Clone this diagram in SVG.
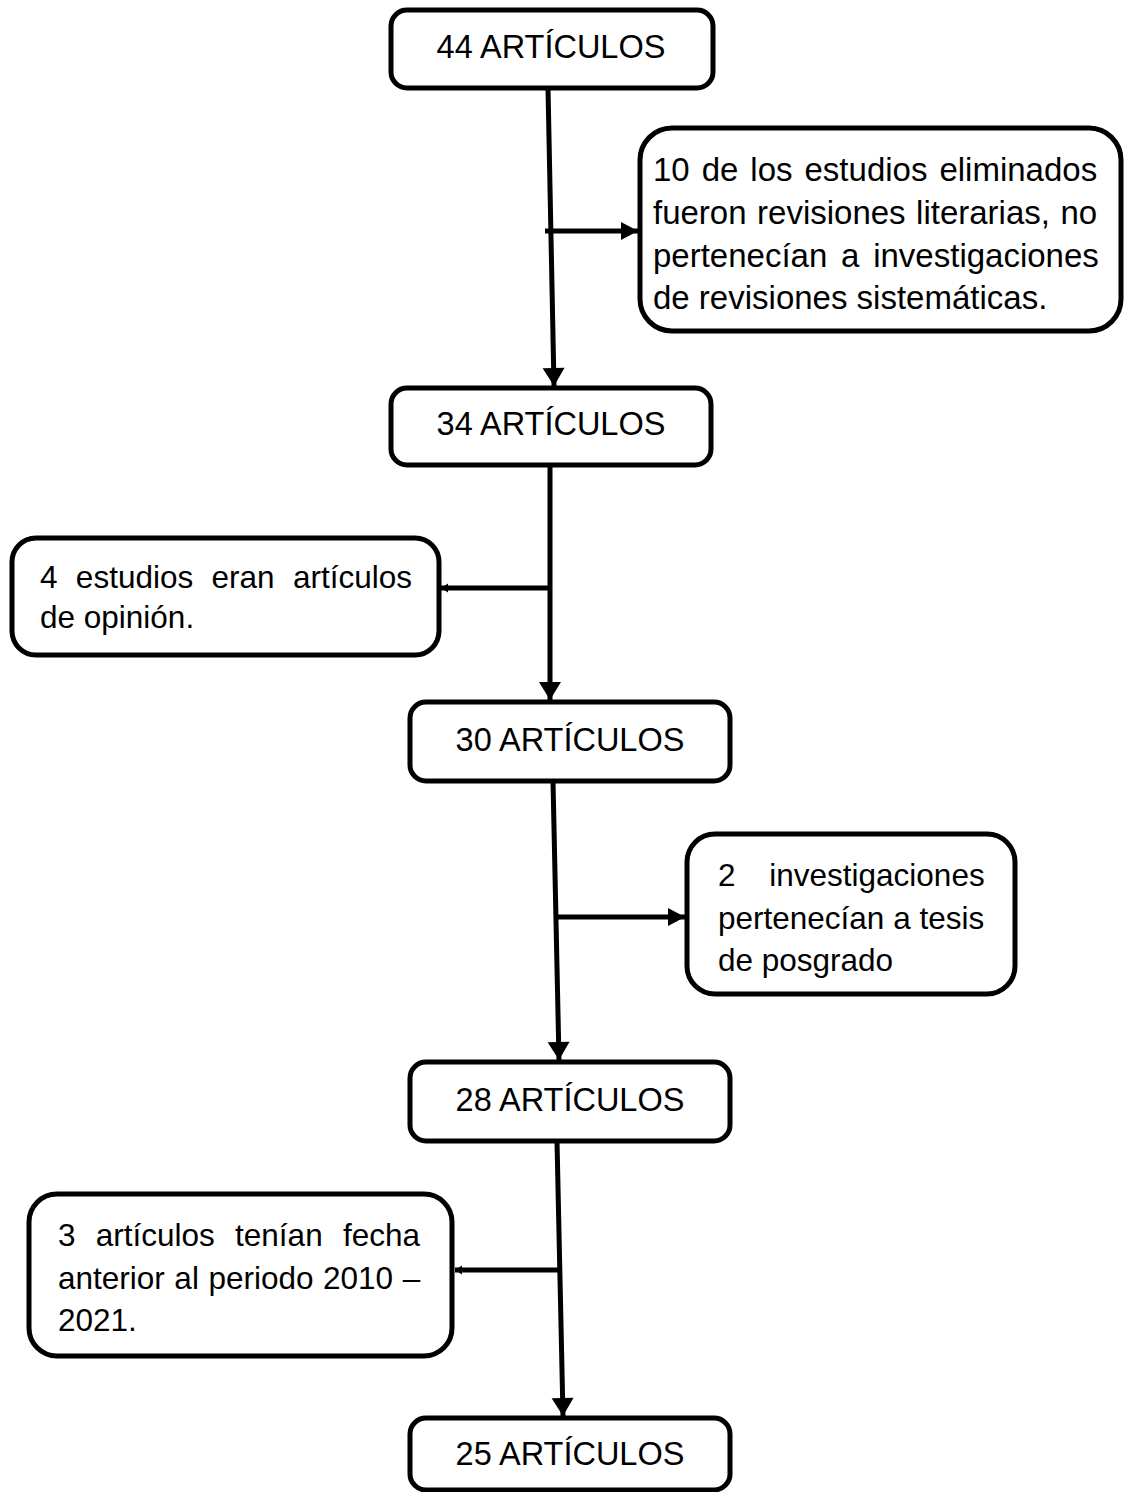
<svg xmlns="http://www.w3.org/2000/svg" width="1127" height="1492" viewBox="0 0 1127 1492">
<style>
.box{fill:#fff;stroke:#000;stroke-width:5}
.t{font-family:"Liberation Sans",Arial,sans-serif;font-size:31.5px;fill:#000}
.c{text-anchor:middle;font-size:32.5px}
.ln{stroke:#000;stroke-width:5;fill:none}
</style>
<defs>
<marker id="big" markerUnits="userSpaceOnUse" markerWidth="24" markerHeight="24" viewBox="0 0 24 24" refX="20" refY="12" orient="auto">
<path d="M2,1 L20,12 L2,23 Z" fill="#000"/>
</marker>
<marker id="mid" markerUnits="userSpaceOnUse" markerWidth="20" markerHeight="20" viewBox="0 0 20 20" refX="18" refY="10" orient="auto">
<path d="M1,1 L18,10 L1,19 Z" fill="#000"/>
</marker>
<marker id="small" markerUnits="userSpaceOnUse" markerWidth="10" markerHeight="10" viewBox="0 0 10 10" refX="9" refY="5" orient="auto">
<path d="M2,0.5 L9,5 L2,9.5 Z" fill="#000"/>
</marker>
</defs>
<g id="connectors">
<line class="ln" x1="548" y1="88" x2="554" y2="386" marker-end="url(#big)"/>
<line class="ln" x1="545" y1="231" x2="638" y2="231" marker-end="url(#mid)"/>
<line class="ln" x1="550" y1="465" x2="550" y2="700" marker-end="url(#big)"/>
<line class="ln" x1="550" y1="588" x2="441" y2="588" marker-end="url(#small)"/>
<line class="ln" x1="553" y1="781" x2="559" y2="1060" marker-end="url(#big)"/>
<line class="ln" x1="557" y1="917" x2="685" y2="917" marker-end="url(#mid)"/>
<line class="ln" x1="557" y1="1141" x2="563" y2="1416" marker-end="url(#big)"/>
<line class="ln" x1="559" y1="1270" x2="455" y2="1270" marker-end="url(#small)"/>
</g>
<g id="n44">
<rect class="box" x="391" y="10" width="322" height="78" rx="16"/>
<text class="t c" x="551" y="58">44 ARTÍCULOS</text>
</g>
<g id="n10">
<rect class="box" x="640" y="128" width="481" height="203" rx="32"/>
<text class="t" style="font-size:33px">
<tspan x="653" y="181" word-spacing="2.8">10 de los estudios eliminados</tspan>
<tspan x="653" y="224" word-spacing="1.3">fueron revisiones literarias, no</tspan>
<tspan x="653" y="266.5" word-spacing="4.6">pertenecían a investigaciones</tspan>
<tspan x="653" y="309">de revisiones sistemáticas.</tspan>
</text>
</g>
<g id="n34">
<rect class="box" x="391" y="388" width="320" height="77" rx="16"/>
<text class="t c" x="551" y="435">34 ARTÍCULOS</text>
</g>
<g id="n4">
<rect class="box" x="12" y="538" width="427" height="117" rx="24"/>
<text class="t">
<tspan x="40" y="588" word-spacing="9.6">4 estudios eran artículos</tspan>
<tspan x="40" y="628">de opinión.</tspan>
</text>
</g>
<g id="n30">
<rect class="box" x="410" y="702" width="320" height="79" rx="16"/>
<text class="t c" x="570" y="751">30 ARTÍCULOS</text>
</g>
<g id="n2">
<rect class="box" x="687" y="834" width="328" height="160" rx="28"/>
<text class="t">
<tspan x="718" y="886" word-spacing="25">2 investigaciones</tspan>
<tspan x="718" y="929">pertenecían a tesis</tspan>
<tspan x="718" y="971">de posgrado</tspan>
</text>
</g>
<g id="n28">
<rect class="box" x="410" y="1062" width="320" height="79" rx="16"/>
<text class="t c" x="570" y="1111">28 ARTÍCULOS</text>
</g>
<g id="n3">
<rect class="box" x="29" y="1194" width="423" height="162" rx="28"/>
<text class="t">
<tspan x="58" y="1246" word-spacing="11.5">3 artículos tenían fecha</tspan>
<tspan x="58" y="1289" word-spacing="0.8">anterior al periodo 2010 –</tspan>
<tspan x="58" y="1331">2021.</tspan>
</text>
</g>
<g id="n25">
<rect class="box" x="410" y="1418" width="320" height="72" rx="16"/>
<text class="t c" x="570" y="1465">25 ARTÍCULOS</text>
</g>
</svg>
